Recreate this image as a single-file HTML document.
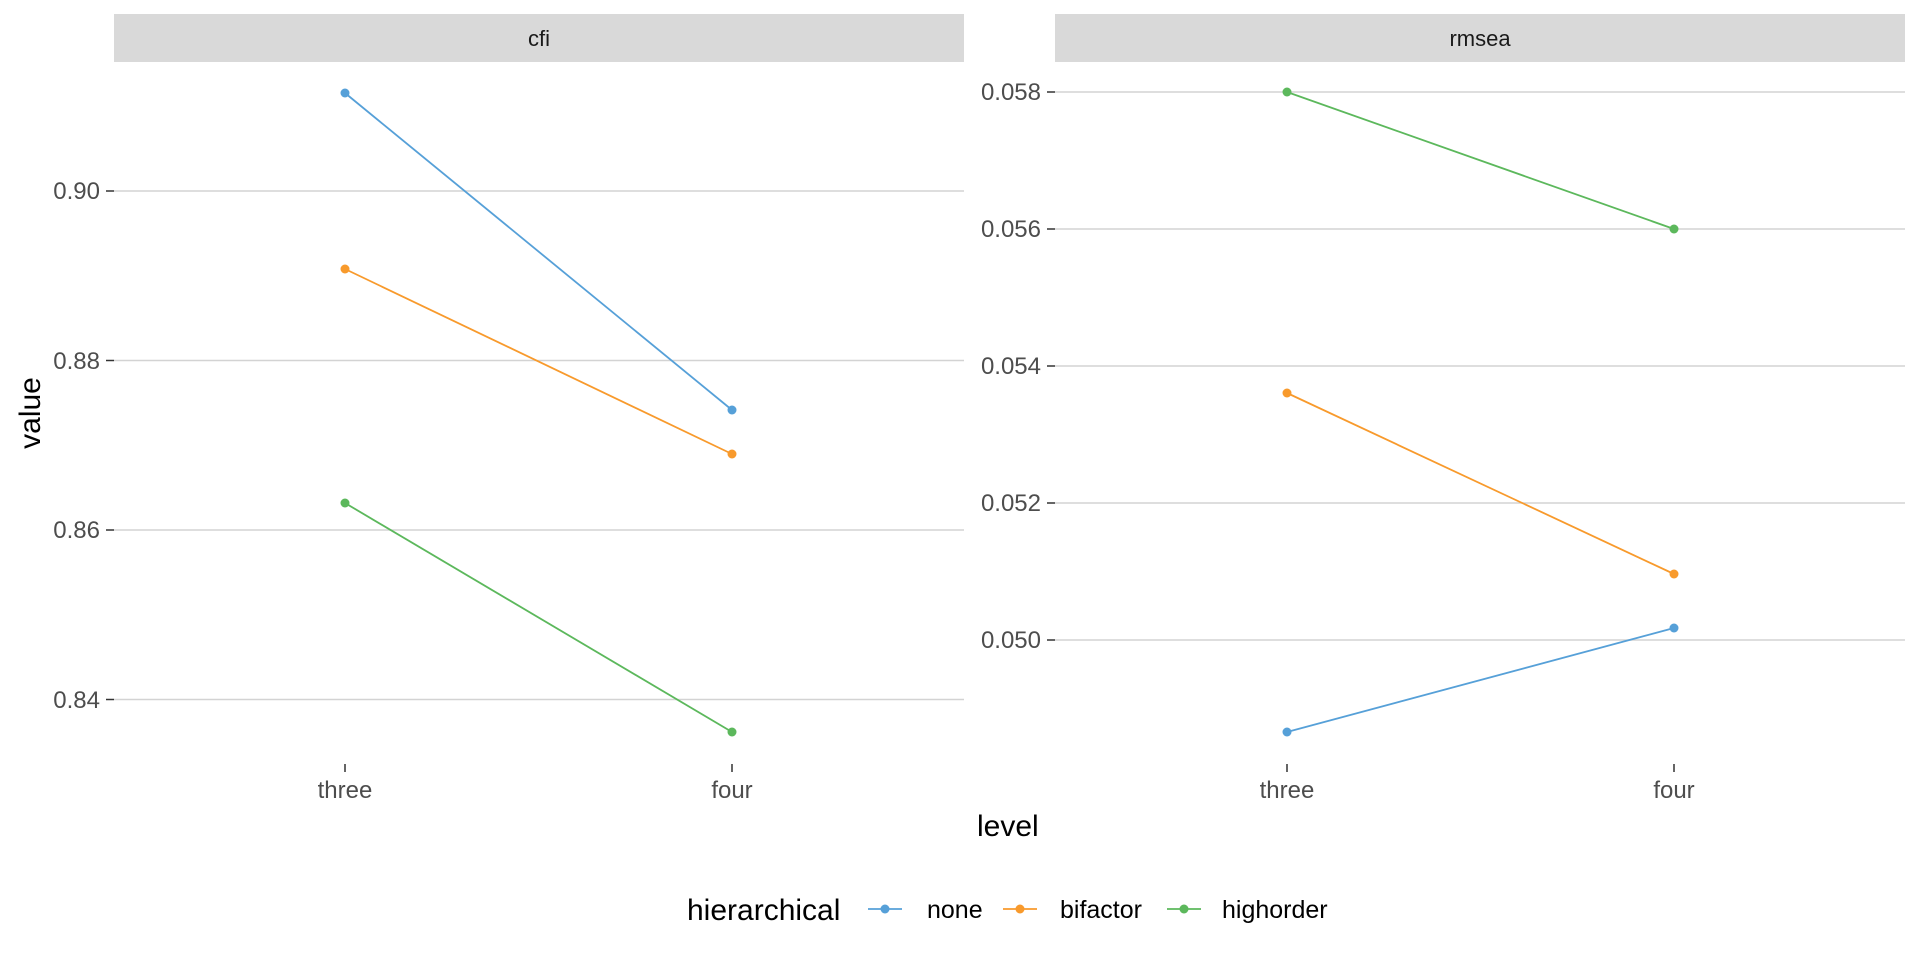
<!DOCTYPE html>
<html><head><style>
body{margin:0;background:#fff;}
svg text{font-family:"Liberation Sans",Arial,sans-serif;}
</style></head><body>
<svg width="1920" height="960" xmlns="http://www.w3.org/2000/svg">
<rect width="1920" height="960" fill="#fff"/>
<rect x="114" y="14" width="850" height="48" fill="#d9d9d9"/>
<text x="539" y="46" font-size="22" text-anchor="middle" fill="#1a1a1a">cfi</text>
<g stroke="#d3d3d3" stroke-width="1.5">
<line x1="114" x2="964" y1="191" y2="191"/><line x1="114" x2="964" y1="360.5" y2="360.5"/>
<line x1="114" x2="964" y1="530" y2="530"/><line x1="114" x2="964" y1="699.5" y2="699.5"/>
</g>
<g stroke="#333" stroke-width="1.5">
<line x1="106" x2="114" y1="191" y2="191"/><line x1="106" x2="114" y1="360.5" y2="360.5"/>
<line x1="106" x2="114" y1="530" y2="530"/><line x1="106" x2="114" y1="699.5" y2="699.5"/>
<line x1="345" x2="345" y1="764" y2="772"/><line x1="732" x2="732" y1="764" y2="772"/>
</g>
<g font-size="24" fill="#4d4d4d" text-anchor="end">
<text x="100" y="199">0.90</text><text x="100" y="369">0.88</text>
<text x="100" y="538">0.86</text><text x="100" y="708">0.84</text>
</g>
<g font-size="24" fill="#4d4d4d" text-anchor="middle">
<text x="345" y="798">three</text><text x="732" y="798">four</text>
</g>
<g stroke-width="1.8">
<line x1="345" y1="93" x2="732" y2="410" stroke="#56a0d8"/>
<line x1="345" y1="269" x2="732" y2="454" stroke="#f89a2c"/>
<line x1="345" y1="503" x2="732" y2="732" stroke="#5cb85c"/>
</g>
<circle cx="345" cy="93" r="4.5" fill="#56a0d8"/><circle cx="732" cy="410" r="4.5" fill="#56a0d8"/>
<circle cx="345" cy="269" r="4.5" fill="#f89a2c"/><circle cx="732" cy="454" r="4.5" fill="#f89a2c"/>
<circle cx="345" cy="503" r="4.5" fill="#5cb85c"/><circle cx="732" cy="732" r="4.5" fill="#5cb85c"/>
<rect x="1055" y="14" width="850" height="48" fill="#d9d9d9"/>
<text x="1480" y="46" font-size="22" text-anchor="middle" fill="#1a1a1a">rmsea</text>
<g stroke="#d3d3d3" stroke-width="1.5">
<line x1="1055" x2="1905" y1="92" y2="92"/><line x1="1055" x2="1905" y1="229" y2="229"/>
<line x1="1055" x2="1905" y1="366" y2="366"/><line x1="1055" x2="1905" y1="503" y2="503"/>
<line x1="1055" x2="1905" y1="640" y2="640"/>
</g>
<g stroke="#333" stroke-width="1.5">
<line x1="1047" x2="1055" y1="92" y2="92"/><line x1="1047" x2="1055" y1="229" y2="229"/>
<line x1="1047" x2="1055" y1="366" y2="366"/><line x1="1047" x2="1055" y1="503" y2="503"/>
<line x1="1047" x2="1055" y1="640" y2="640"/>
<line x1="1287" x2="1287" y1="764" y2="772"/><line x1="1674" x2="1674" y1="764" y2="772"/>
</g>
<g font-size="24" fill="#4d4d4d" text-anchor="end">
<text x="1041" y="100">0.058</text><text x="1041" y="237">0.056</text>
<text x="1041" y="374">0.054</text><text x="1041" y="511">0.052</text>
<text x="1041" y="648">0.050</text>
</g>
<g font-size="24" fill="#4d4d4d" text-anchor="middle">
<text x="1287" y="798">three</text><text x="1674" y="798">four</text>
</g>
<g stroke-width="1.8">
<line x1="1287" y1="92" x2="1674" y2="229" stroke="#5cb85c"/>
<line x1="1287" y1="393" x2="1674" y2="574" stroke="#f89a2c"/>
<line x1="1287" y1="732" x2="1674" y2="628" stroke="#56a0d8"/>
</g>
<circle cx="1287" cy="92" r="4.5" fill="#5cb85c"/><circle cx="1674" cy="229" r="4.5" fill="#5cb85c"/>
<circle cx="1287" cy="393" r="4.5" fill="#f89a2c"/><circle cx="1674" cy="574" r="4.5" fill="#f89a2c"/>
<circle cx="1287" cy="732" r="4.5" fill="#56a0d8"/><circle cx="1674" cy="628" r="4.5" fill="#56a0d8"/>
<text x="977" y="836" font-size="30" fill="#000">level</text>
<text transform="translate(40,413) rotate(-90)" font-size="30" fill="#000" text-anchor="middle">value</text>
<text x="687" y="920" font-size="30" fill="#000">hierarchical</text>
<g stroke-width="1.8">
<line x1="868" x2="902" y1="909" y2="909" stroke="#56a0d8"/>
<line x1="1003" x2="1037" y1="909" y2="909" stroke="#f89a2c"/>
<line x1="1167" x2="1201" y1="909" y2="909" stroke="#5cb85c"/>
</g>
<circle cx="885" cy="909" r="4.5" fill="#56a0d8"/>
<circle cx="1020" cy="909" r="4.5" fill="#f89a2c"/>
<circle cx="1184" cy="909" r="4.5" fill="#5cb85c"/>
<g font-size="25" fill="#000">
<text x="927" y="918">none</text><text x="1060" y="918">bifactor</text><text x="1222" y="918">highorder</text>
</g>
</svg>
</body></html>
